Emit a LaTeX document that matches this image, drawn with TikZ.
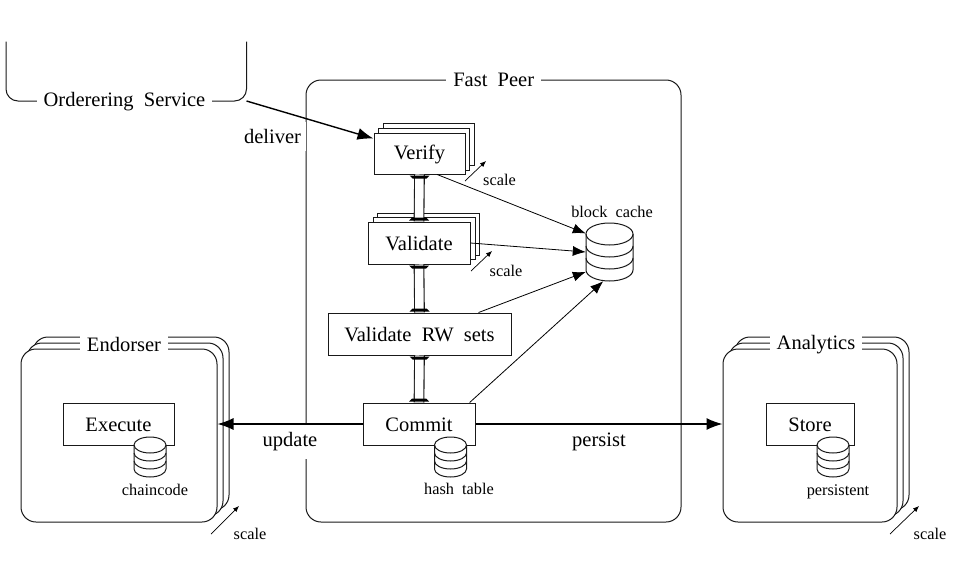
\documentclass[tikz,border=0pt]{standalone}
\usepackage{fontspec}
\setmainfont[WordSpace=2]{Liberation Serif}
\usetikzlibrary{arrows.meta,calc}
\definecolor{ink}{gray}{0.1}
\tikzset{
  box/.style={draw=ink,line width=1pt,fill=white,rectangle,inner sep=0pt,text height=18pt,text depth=3pt,font=\fontsize{20.5}{24}\selectfont},
  panel/.style={draw=ink,line width=1pt,fill=white,rectangle,rounded corners=15pt,inner sep=0pt},
  title/.style={anchor=base,fill=white,inner xsep=7pt,inner ysep=1pt,text height=14pt,text depth=0pt,font=\fontsize{20.5}{24}\selectfont},
  biglabel/.style={anchor=base,fill=white,inner xsep=1pt,inner ysep=7.5pt,text height=14pt,text depth=5pt,font=\fontsize{20.5}{24}\selectfont},
  smalllabel/.style={anchor=base,inner sep=0pt,font=\fontsize{16.3}{19}\selectfont},
  tube/.style={draw=ink,line width=1.1pt,double=white,double distance=8.5pt},
  capbar/.style={fill=black},
  bigarrow/.style={draw=black,line width=1.4pt,-{Latex[length=16pt,width=12pt]}},
  cachearrow/.style={draw=black,line width=0.8pt,-{Latex[length=13pt,width=10pt]}},
  scalearrow/.style={draw=black,line width=0.7pt,-{Latex[length=6pt,width=5pt]}},
  plainline/.style={draw=ink,line width=1pt,rounded corners=12pt}
}
% tube between two stacked boxes with a black cap at each end
\newcommand{\tubelink}[2]{%
  \draw[tube] (#1.south) -- (#2.north);
  \fill[capbar] ($(#1.south)+(-10,1)$) -- ($(#1.south)+(10,1)$) -- ($(#1.south)+(7,4)$) -- ($(#1.south)+(-7,4)$) -- cycle;
  \fill[capbar] ($(#2.north)+(-10,-1)$) -- ($(#2.north)+(10,-1)$) -- ($(#2.north)+(7,-4)$) -- ($(#2.north)+(-7,-4)$) -- cycle;
}
% name, centre x, top y, x radius, y radius, layer step
\newcommand{\dbstack}[6]{%
  \pgfmathsetmacro{\dbh}{2*#5+3*#6}
  \node[inner sep=0pt,minimum width=2*#4 pt,minimum height=\dbh pt] (#1) at (#2,#3+\dbh/2) {};
  \begin{scope}[shift={(#2,#3+#5)}]
    \fill[white] (-#4,0) rectangle (#4,#6*3);
    \fill[white] (0,#6*3) ellipse [x radius=#4 pt,y radius=#5 pt];
    \draw[draw=ink,line width=1pt,fill=white] (0,0) ellipse [x radius=#4 pt,y radius=#5 pt];
    \draw[draw=ink,line width=1pt] (-#4,0) -- (-#4,#6*3) arc [start angle=180,end angle=360,x radius=#4 pt,y radius=#5 pt] -- (#4,0);
    \draw[draw=ink,line width=1pt] (-#4,#6) arc [start angle=180,end angle=360,x radius=#4 pt,y radius=#5 pt];
    \draw[draw=ink,line width=1pt] (-#4,#6*2) arc [start angle=180,end angle=360,x radius=#4 pt,y radius=#5 pt];
  \end{scope}
}
\begin{document}
\begin{tikzpicture}[x=1pt,y=-1pt]
\useasboundingbox (0,0) rectangle (964,562);

% Ordering service
\coordinate (ordcorner) at (246.5,101);
\draw[plainline] (6,41.5) -- (6,101) -- (ordcorner) -- (246.5,41.5);
\node[title] (ordtitle) at (124.5,106.5) {Orderering Service};

% Fast peer
\node[panel,minimum width=375pt,minimum height=442pt] (fast) at (493.5,301) {};
\node[title] (fasttitle) at (493.7,86.8) {Fast Peer};

% Endorser
\node[panel,minimum width=196pt,minimum height=173pt] (endc) at (131,423.5) {};
\node[panel,minimum width=196pt,minimum height=173pt] (endb) at (125,429.5) {};
\node[panel,minimum width=196pt,minimum height=173pt] (enda) at (119,435.5) {};
\node[title] (endtitle) at (124,351) {Endorser};
\node[box,minimum width=111pt,minimum height=42pt] (execute) at (118.5,424) {Execute};

% Analytics
\node[panel,minimum width=174pt,minimum height=173pt] (anac) at (822,423.5) {};
\node[panel,minimum width=174pt,minimum height=173pt] (anab) at (816,429.5) {};
\node[panel,minimum width=174pt,minimum height=173pt] (anaa) at (810,435.5) {};
\node[title] (anatitle) at (816,349.5) {Analytics};
\node[box,minimum width=88pt,minimum height=42pt] (store) at (810,424) {Store};

% Stages
\node[box,minimum width=91pt,minimum height=42pt] (verifyc) at (428.5,144) {};
\node[box,minimum width=91pt,minimum height=42pt] (verifyb) at (424,149) {};
\node[box,minimum width=91pt,minimum height=41pt,text height=16pt,text depth=4pt] (verify) at (419.5,153.5) {Verify};

\node[box,minimum width=102pt,minimum height=42pt] (validatec) at (428.5,234) {};
\node[box,minimum width=102pt,minimum height=42pt] (validateb) at (424,238.5) {};
\node[box,minimum width=102pt,minimum height=42pt] (validate) at (419,243) {Validate};

\node[box,minimum width=183pt,minimum height=42pt] (rwsets) at (419.5,334) {Validate RW sets};
\node[box,minimum width=112pt,minimum height=42pt] (commit) at (419,424) {Commit};

\tubelink{verify}{validate}
\tubelink{validate}{rwsets}
\tubelink{rwsets}{commit}

% Stores
\dbstack{cache}{609.5}{223}{23.5}{11}{12}
\dbstack{hashdb}{450.5}{437}{16}{8}{8}
\dbstack{chaindb}{150}{437}{16}{8}{8}
\dbstack{persistdb}{833}{437}{16}{8}{8}

\node[smalllabel] (cachelabel) at (612,217.5) {block cache};
\node[smalllabel] (hashlabel) at (459,494.5) {hash table};
\node[smalllabel] (chainlabel) at (155,495) {chaincode};
\node[smalllabel] (persistlabel) at (838,495) {persistent};

% Flow labels (white ground cuts the Fast Peer border)
\node[biglabel,inner xsep=5pt,text depth=0pt] (deliverlabel) at (272.5,143.3) {deliver};
\node[biglabel] (updatelabel) at (290,446.7) {update};
\node[biglabel] (persistflow) at (599,446.7) {persist};

% Main arrows
\draw[bigarrow] (ordcorner) -- (verify.162);
\draw[bigarrow] (commit.west) -- (enda.east |- commit.west);
\draw[bigarrow] (commit.east) -- (anaa.west |- commit.east);

% Arrows into the block cache
\draw[cachearrow] (verify.-50) -- (cache.142);
\draw[cachearrow] (validate.east) -- (cache.west);
\draw[cachearrow] (rwsets.20.7) -- (cache.-140);
\draw[cachearrow] (commit.23) -- (cache.-102);

% Scale marks
\coordinate (s1a) at (465,181); \coordinate (s1b) at (486,161);
\coordinate (s2a) at (471,271); \coordinate (s2b) at (492,251);
\coordinate (s3a) at (211,534); \coordinate (s3b) at (239,506);
\coordinate (s4a) at (890,534); \coordinate (s4b) at (919,506);
\draw[scalearrow] (s1a) -- (s1b);
\draw[scalearrow] (s2a) -- (s2b);
\draw[scalearrow] (s3a) -- (s3b);
\draw[scalearrow] (s4a) -- (s4b);
\node[smalllabel] (sl1) at (499.5,185.5) {scale};
\node[smalllabel] (sl2) at (506,276) {scale};
\node[smalllabel] (sl3) at (250,539.5) {scale};
\node[smalllabel] (sl4) at (930,539.5) {scale};
\end{tikzpicture}
\end{document}
